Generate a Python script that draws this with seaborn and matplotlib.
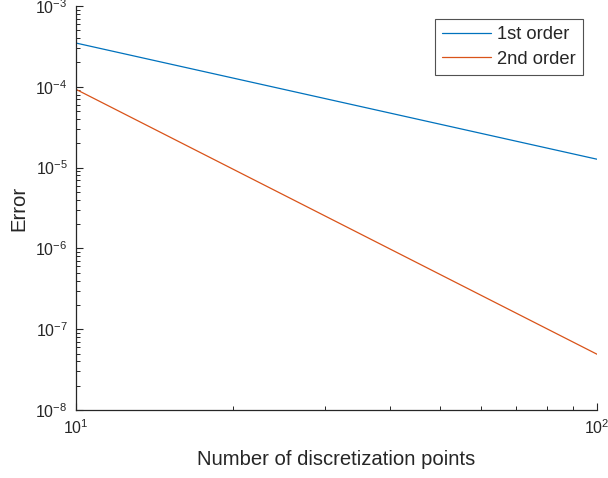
import matplotlib
matplotlib.use("Agg")
import matplotlib.pyplot as plt
import seaborn as sns
import pandas as pd
from matplotlib.ticker import LogLocator, NullFormatter

# --- data ---
n_points = [10, 100]
err_first = [3.48e-4, 1.27e-5]
err_second = [9.3e-5, 4.9e-8]
series_names = ["1st order", "2nd order"]
series_colors = ["#0072BD", "#D95319"]

sns.set_style("ticks")
plt.rcParams["font.family"] = ["Liberation Sans", "DejaVu Sans"]
plt.rcParams["mathtext.fontset"] = "custom"
plt.rcParams["mathtext.rm"] = "Liberation Sans"
plt.rcParams["mathtext.it"] = "Liberation Sans"

df = pd.concat([
    pd.DataFrame({"n": n_points, "err": err_first, "method": series_names[0]}),
    pd.DataFrame({"n": n_points, "err": err_second, "method": series_names[1]}),
], ignore_index=True)

fig = plt.figure(figsize=(6.08, 4.78), dpi=100)
ax = fig.add_axes([76 / 608, 1 - 410 / 478, (597 - 76) / 608, (410 - 6) / 478])

sns.lineplot(data=df, x="n", y="err", hue="method", palette=series_colors,
             linewidth=0.9, ax=ax)

ax.set_xscale("log")
ax.set_yscale("log")
ax.set_xlim(10, 100)
ax.set_ylim(1e-8, 1e-3)

ax.yaxis.set_major_locator(LogLocator(base=10, numticks=10))
ax.yaxis.set_minor_locator(LogLocator(base=10, subs=range(2, 10), numticks=100))
ax.xaxis.set_minor_locator(LogLocator(base=10, subs=range(2, 10), numticks=100))
ax.yaxis.set_minor_formatter(NullFormatter())
ax.xaxis.set_minor_formatter(NullFormatter())

for side in ["top", "right"]:
    ax.spines[side].set_visible(False)
for side in ["left", "bottom"]:
    ax.spines[side].set_color("#262626")
    ax.spines[side].set_linewidth(0.9)

ax.tick_params(which="major", direction="in", length=5, width=0.8,
               color="#262626", labelsize=11.5, labelcolor="#262626", pad=6)
ax.tick_params(which="minor", direction="in", length=3, width=0.7, color="#262626")

ax.set_xlabel("Number of discretization points", fontsize=14.6, color="#262626", labelpad=9)
ax.set_ylabel("Error", fontsize=14.6, color="#262626", labelpad=5)

leg = ax.legend(loc="upper right", bbox_to_anchor=(583 / 608, 1 - 19 / 478),
                bbox_transform=fig.transFigure, fontsize=13.2, frameon=True,
                fancybox=False, borderpad=0.4, handlelength=2.7, handletextpad=0.3,
                labelspacing=0.4, borderaxespad=0)
leg.get_frame().set_edgecolor("#262626")
leg.get_frame().set_linewidth(0.8)

fig.savefig("out.png", dpi=100)
